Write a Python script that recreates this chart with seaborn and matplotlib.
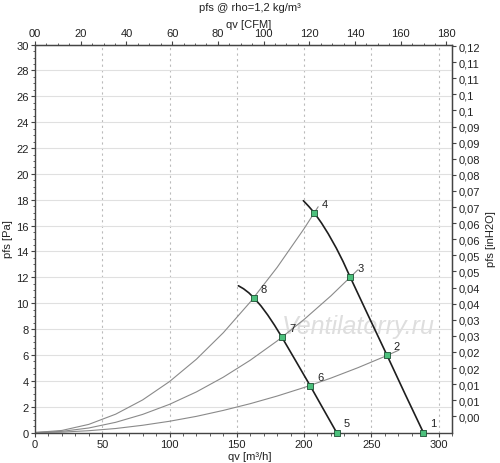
import matplotlib
matplotlib.use("Agg")
import matplotlib.pyplot as plt
import seaborn as sns
import pandas as pd
from matplotlib.ticker import MultipleLocator, FixedLocator

# fan curves (qv in m3/h, pfs in Pa)
fan_a_q = [151.2, 155.0, 159.0, 162.6, 168.0, 173.0, 178.0, 183.6, 194.0, 204.5, 214.3, 224.2]
fan_a_p = [11.35, 11.12, 10.80, 10.43, 9.79, 9.09, 8.31, 7.36, 5.51, 3.63, 1.82, 0.0]
fan_b_q = [199.5, 203.5, 207.7, 213.0, 218.0, 224.0, 229.0, 234.4, 247.8, 261.7, 275.1, 288.7]
fan_b_p = [17.93, 17.49, 16.98, 16.20, 15.37, 14.26, 13.23, 12.0, 9.03, 5.97, 2.98, 0.0]

# system curves
sys1_q = [0, 20, 40, 60, 80, 100, 120, 140, 160, 180, 200, 210.5]
sys1_p = [0, 0.16, 0.63, 1.42, 2.52, 3.94, 5.67, 7.72, 10.09, 12.77, 15.76, 17.46]
sys2_q = [0, 20, 40, 60, 80, 100, 120, 140, 160, 180, 200, 220, 240]
sys2_p = [0, 0.09, 0.35, 0.79, 1.40, 2.18, 3.14, 4.28, 5.59, 7.08, 8.74, 10.57, 12.58]
sys3_q = [0, 20, 40, 60, 80, 100, 120, 140, 160, 180, 200, 220, 240, 260, 270.5]
sys3_p = [0, 0.03, 0.14, 0.31, 0.56, 0.87, 1.25, 1.71, 2.23, 2.82, 3.48, 4.21, 5.01, 5.88, 6.37]

# operating points
point_ids = ["1", "2", "3", "4", "5", "6", "7", "8"]
point_q = [288.7, 261.7, 234.4, 207.7, 224.2, 204.5, 183.6, 162.6]
point_p = [0.0, 5.97, 12.0, 16.98, 0.0, 3.63, 7.36, 10.43]

cfm_ticks = [0, 20, 40, 60, 80, 100, 120, 140, 160, 180]
cfm_labels = ["00", "20", "40", "60", "80", "100", "120", "140", "160", "180"]
inh2o_ticks = [0.005 * k for k in range(1, 25)]
inh2o_labels = ["0,00", "0,01", "0,01", "0,02", "0,02", "0,03", "0,03", "0,04",
                "0,04", "0,05", "0,05", "0,06", "0,06", "0,07", "0,07", "0,08",
                "0,08", "0,09", "0,09", "0,1", "0,1", "0,11", "0,11", "0,12"]

sns.set_style("white")
plt.rcParams['font.family'] = ['Liberation Sans', 'DejaVu Sans']
plt.rcParams['font.size'] = 8

fig = plt.figure(figsize=(5, 4.64), dpi=100)
ax = fig.add_axes([0.07, 0.0657, 0.834, 0.836])

for q, p in [(sys1_q, sys1_p), (sys2_q, sys2_p), (sys3_q, sys3_p)]:
    sns.lineplot(x=q, y=p, ax=ax, color="#8a8a8a", linewidth=0.8, sort=False)
for q, p in [(fan_a_q, fan_a_p), (fan_b_q, fan_b_p)]:
    sns.lineplot(x=q, y=p, ax=ax, color="#1e1e1e", linewidth=1.2, sort=False)

pts = pd.DataFrame({"q": point_q, "p": point_p, "id": point_ids})
sns.scatterplot(data=pts, x="q", y="p", ax=ax, marker="s", s=13,
                color="#4cc07c", edgecolor="#1d4f33", linewidth=0.6,
                zorder=5, clip_on=False)
for _, r in pts.iterrows():
    ax.annotate(r["id"], (r["q"], r["p"]), xytext=(7.2, 6.5),
                textcoords="offset points", ha="center", va="center",
                fontsize=8, color="#222222")

ax.text(240, 8.2, "Ventilatorry.ru", fontsize=18, style="italic",
        family=["Liberation Sans Narrow", "Liberation Sans"],
        color="#dedede", ha="center", va="center", zorder=1)

ax.set_xlim(0, 310)
ax.set_ylim(0, 30)
ax.yaxis.set_major_locator(MultipleLocator(2))
ax.yaxis.set_minor_locator(MultipleLocator(0.5))
ax.xaxis.set_major_locator(MultipleLocator(50))
ax.xaxis.set_minor_locator(MultipleLocator(10))
ax.grid(axis="y", which="major", color="#e0e0e0", linewidth=0.8, linestyle="-")
ax.grid(axis="x", which="major", color="#bbbbbb", linewidth=0.8, linestyle=(0, (2, 3)))
ax.set_axisbelow(True)
ax.set_xlabel("")
ax.set_ylabel("")

for s in ax.spines.values():
    s.set_color("#444444")
    s.set_linewidth(1.0)
ax.tick_params(which="major", length=3, width=0.8, color="#444444", labelsize=8,
               labelcolor="#222222", pad=1.5, left=True, bottom=True)
ax.tick_params(which="minor", length=1.8, width=0.6, color="#444444", left=True, bottom=True)

top = ax.secondary_xaxis("top", functions=(lambda x: x / 1.699, lambda x: x * 1.699))
top.xaxis.set_major_locator(FixedLocator(cfm_ticks))
top.set_xticklabels(cfm_labels)
top.xaxis.set_minor_locator(MultipleLocator(5))
top.tick_params(which="major", length=3, width=0.8, color="#444444", labelsize=8,
                labelcolor="#222222", pad=1.5)
top.tick_params(which="minor", length=1.8, width=0.6, color="#444444")

right = ax.secondary_yaxis("right", functions=(lambda y: y / 249.089, lambda y: y * 249.089))
right.yaxis.set_major_locator(FixedLocator(inh2o_ticks))
right.set_yticklabels(inh2o_labels)
right.tick_params(which="major", length=3, width=0.8, color="#444444", labelsize=8,
                  labelcolor="#222222", pad=1.5)
right.tick_params(which="minor", length=0)

fig.text(0.5, 0.983, "pfs @ rho=1,2 kg/m³", ha="center", va="center", fontsize=8, color="#222222")
fig.text(0.497, 0.946, "qv [CFM]", ha="center", va="center", fontsize=8, color="#222222")
fig.text(0.5, 0.015, "qv [m³/h]", ha="center", va="center", fontsize=8, color="#222222")
fig.text(0.016, 0.484, "pfs [Pa]", ha="center", va="center", rotation=90, fontsize=8, color="#222222")
fig.text(0.983, 0.484, "pfs [inH2O]", ha="center", va="center", rotation=90, fontsize=8, color="#222222")

fig.savefig("out.png", dpi=100)
